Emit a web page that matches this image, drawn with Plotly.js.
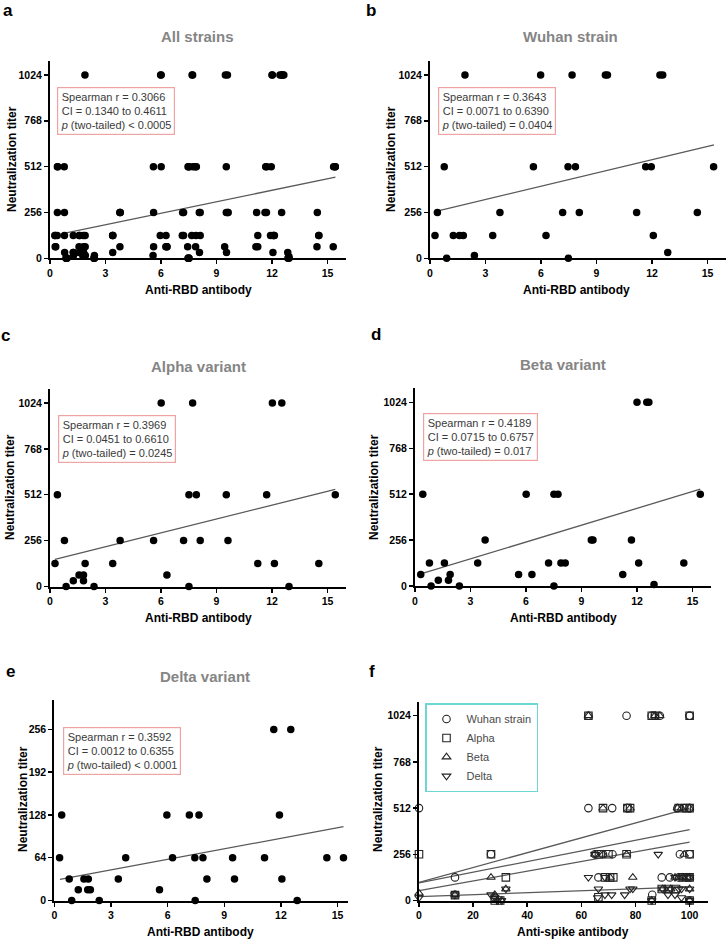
<!DOCTYPE html>
<html>
<head>
<meta charset="utf-8">
<script src="https://cdn.plot.ly/plotly-3.0.1.min.js"></script>
<style>html,body{margin:0;padding:0;background:#fff;}#chart{width:727px;height:941px;}</style>
</head>
<body>
<div id="chart"></div>
<script>
// ---------- DATA ----------
// Panel b: Wuhan strain, anti-RBD vs neutralization titer
const wuhanX = [1.89, 5.98, 7.68, 9.48, 9.59, 12.43, 12.58,
                0.77, 5.59, 7.46, 7.86, 11.66, 11.96, 15.33,
                0.40, 3.78, 7.17, 8.07, 11.17, 14.45,
                0.27, 1.26, 1.59, 1.80, 3.39, 6.27, 12.07,
                0.90, 2.40, 7.48, 12.85];
const wuhanY = [1024, 1024, 1024, 1024, 1024, 1024, 1024,
                512, 512, 512, 512, 512, 512, 512,
                256, 256, 256, 256, 256, 256,
                128, 128, 128, 128, 128, 128, 128,
                0, 16, 0, 32];
const wuhanFitX = [0.32, 15.35];
const wuhanFitY = [262, 633];

// Panel c: Alpha variant
const alphaX = [6.01, 7.71, 12.02, 12.53,
                0.40, 7.51, 7.91, 9.53, 11.71, 15.42,
                0.78, 3.79, 5.60, 7.22, 8.12, 9.62,
                0.27, 1.90, 3.39, 11.23, 12.13, 14.53,
                1.57, 1.81, 6.32,
                1.26, 1.81,
                0.87, 2.38, 7.51, 12.92];
const alphaY = [1024, 1024, 1024, 1024,
                512, 512, 512, 512, 512, 512,
                256, 256, 256, 256, 256, 256,
                128, 128, 128, 128, 128, 128,
                64, 64, 64,
                32, 32,
                0, 0, 0, 0];
const alphaFitX = [0.27, 15.42];
const alphaFitY = [152, 542];

// Panel d: Beta variant
const betaX = [12.00, 12.53, 12.64,
               0.42, 6.01, 7.51, 7.73, 15.42,
               3.79, 9.53, 9.62, 11.70,
               0.78, 1.59, 3.39, 7.22, 7.89, 8.12, 12.09, 14.53,
               0.31, 1.90, 5.60, 6.32, 11.23,
               1.26, 1.81,
               0.87, 2.40, 7.51, 12.92];
const betaY = [1024, 1024, 1024,
               512, 512, 512, 512, 512,
               256, 256, 256, 256,
               128, 128, 128, 128, 128, 128, 128, 128,
               64, 64, 64, 64, 64,
               32, 32,
               0, 0, 0, 8];
const betaFitX = [0.31, 15.42];
const betaFitY = [67, 540];

// Panel e: Delta variant
const deltaX = [11.62, 12.52,
                0.39, 5.96, 7.15, 7.66, 11.92,
                0.28, 6.26, 7.44, 7.87, 9.44, 11.13, 14.43, 15.31, 3.78,
                0.79, 1.57, 1.80, 3.39, 8.08, 9.54, 12.05,
                1.27, 1.77, 1.91, 5.57,
                0.92, 2.38, 7.46, 12.86];
const deltaY = [256, 256,
                128, 128, 128, 128, 128,
                64, 64, 64, 64, 64, 64, 64, 64, 64,
                32, 32, 32, 32, 32, 32, 32,
                16, 16, 16, 16,
                0, 0, 0, 0];
const deltaFitX = [0.30, 15.31];
const deltaFitY = [31.5, 110.5];

// Panel a: all strains (pooled b-e)
const allX = wuhanX.concat(alphaX, betaX, deltaX);
const allY = wuhanY.concat(alphaY, betaY, deltaY);
const allFitX = [0.81, 15.43];
const allFitY = [141, 453];

// Panel f: anti-spike antibody vs neutralization titer
const spikeWuhanX = [62.6, 76.7, 86.0, 87.2, 89.0, 100, 100,
                     0, 62.6, 71.4, 77.0, 95.5, 98.0, 100,
                     26.6, 65.0, 68.0, 71.5, 96.4, 100,
                     13.3, 66.3, 89.7, 92.7, 96.0, 99.0, 100,
                     13.3, 28.0, 86.2, 100];
const spikeWuhanY = [1024, 1024, 1024, 1024, 1024, 1024, 1024,
                     512, 512, 512, 512, 512, 512, 512,
                     256, 256, 256, 256, 256, 256,
                     128, 128, 128, 128, 128, 128, 128,
                     32, 16, 32, 0];
const spikeAlphaX = [62.6, 86.0, 87.2, 100,
                     68.0, 77.0, 78.0, 96.0, 99.0, 100,
                     0, 26.6, 66.5, 70.0, 76.7, 100,
                     32.1, 68.7, 70.6, 71.8, 97.5, 100,
                     89.7, 92.0, 95.0,
                     13.3, 66.3,
                     28.0, 30.0, 86.0, 100];
const spikeAlphaY = [1024, 1024, 1024, 1024,
                     512, 512, 512, 512, 512, 512,
                     256, 256, 256, 256, 256, 256,
                     128, 128, 128, 128, 128, 128,
                     64, 64, 64,
                     30, 18,
                     0, 0, 0, 0];
const spikeBetaX = [62.6, 87.2, 89.0,
                    68.0, 78.0, 95.5, 97.0, 100,
                    65.0, 68.0, 76.7, 98.0,
                    26.6, 70.6, 79.0, 94.6, 96.0, 97.5, 99.0, 100,
                    32.1, 90.0, 93.0, 100, 0,
                    13.3, 28.0,
                    29.0, 30.5, 86.0, 100];
const spikeBetaY = [1024, 1024, 1024,
                    512, 512, 512, 512, 512,
                    256, 256, 256, 256,
                    128, 128, 128, 128, 128, 128, 128, 128,
                    64, 64, 64, 64, 40,
                    32, 32,
                    0, 0, 0, 0];
const spikeDeltaX = [88.4, 65.0,
                     62.6, 68.7, 94.6, 97.5, 100,
                     32.1, 66.3, 78.0, 79.0, 90.0, 93.0, 96.0, 100, 97.0,
                     26.6, 68.7, 71.2, 76.0, 92.0, 94.6, 13.3,
                     0, 28.0, 66.0, 97.0,
                     29.0, 30.5, 86.0, 100];
const spikeDeltaY = [256, 256,
                     128, 128, 128, 128, 128,
                     64, 64, 64, 64, 64, 64, 64, 64, 64,
                     32, 32, 32, 32, 32, 32, 32,
                     16, 16, 16, 16,
                     0, 0, 0, 0];
const spikeFitX = [0, 100];
const spikeFitAlphaY = [100, 512];
const spikeFitWuhanY = [98, 393];
const spikeFitBetaY = [55, 323];
const spikeFitDeltaY = [22, 75];

const rbdTicks = [0, 3, 6, 9, 12, 15];
const titerTicks = [0, 256, 512, 768, 1024];
const deltaTiterTicks = [0, 64, 128, 192, 256];
const spikeTicks = [0, 20, 40, 60, 80, 100];

const panelTitles = ["All strains", "Wuhan strain", "Alpha variant", "Beta variant", "Delta variant"];
const panelLetters = ["a", "b", "c", "d", "e", "f"];
const statTexts = [
  "Spearman r = 0.3066<br>CI = 0.1340 to 0.4611<br><i>p</i> (two-tailed) < 0.0005",
  "Spearman r = 0.3643<br>CI = 0.0071 to 0.6390<br><i>p</i> (two-tailed) = 0.0404",
  "Spearman r = 0.3969<br>CI = 0.0451 to 0.6610<br><i>p</i> (two-tailed) = 0.0245",
  "Spearman r = 0.4189<br>CI = 0.0715 to 0.6757<br><i>p</i> (two-tailed) = 0.017",
  "Spearman r = 0.3592<br>CI = 0.0012 to 0.6355<br><i>p</i> (two-tailed) < 0.0001"
];
const xTitles = ["Anti-RBD antibody", "Anti-RBD antibody", "Anti-RBD antibody", "Anti-RBD antibody", "Anti-RBD antibody", "Anti-spike antibody"];
const yTitle = "Neutralization titer";
const legendNames = ["Wuhan strain", "Alpha", "Beta", "Delta"];

// ---------- LAYOUT HELPERS ----------
const W = 727, H = 941;
const px = x => x / W;
const py = y => 1 - y / H;
const FONT = "Liberation Sans, Arial, sans-serif";

function xAxis(d0, d1, range, ticks, anchor) {
  return {
    domain: [px(d0), px(d1)], range: range, anchor: anchor,
    tickvals: ticks, ticktext: ticks.map(String),
    showline: true, linecolor: "#000", linewidth: 2,
    ticks: "outside", ticklen: 4, tickwidth: 1.5, tickcolor: "#000",
    tickfont: {family: FONT, size: 10.5, color: "#000", weight: "bold"},
    showgrid: false, zeroline: false, fixedrange: true
  };
}
function yAxis(top, bottom, range, ticks, anchor) {
  return {
    domain: [py(bottom), py(top)], range: range, anchor: anchor,
    tickvals: ticks, ticktext: ticks.map(String),
    showline: true, linecolor: "#000", linewidth: 2,
    ticks: "outside", ticklen: 4, tickwidth: 1.5, tickcolor: "#000",
    tickfont: {family: FONT, size: 10.5, color: "#000", weight: "bold"},
    showgrid: false, zeroline: false, fixedrange: true
  };
}

const dotMarker = {color: "#000", size: 7.5, symbol: "circle"};
const fitLine = {color: "#595959", width: 1.3};

function dots(x, y, xa, ya) {
  return {type: "scatter", mode: "markers", x: x, y: y, xaxis: xa, yaxis: ya,
          marker: dotMarker, cliponaxis: false, showlegend: false, hoverinfo: "skip"};
}
function fit(x, y, xa, ya) {
  return {type: "scatter", mode: "lines", x: x, y: y, xaxis: xa, yaxis: ya,
          line: fitLine, showlegend: false, hoverinfo: "skip"};
}
function openPts(x, y, symbol, name) {
  return {type: "scatter", mode: "markers", x: x, y: y, xaxis: "x6", yaxis: "y6", name: name,
          marker: {symbol: symbol, size: 7.5, color: "#222", line: {color: "#222", width: 1.1}},
          cliponaxis: false, hoverinfo: "skip"};
}

const traces = [
  fit(allFitX, allFitY, "x", "y"), dots(allX, allY, "x", "y"),
  fit(wuhanFitX, wuhanFitY, "x2", "y2"), dots(wuhanX, wuhanY, "x2", "y2"),
  fit(alphaFitX, alphaFitY, "x3", "y3"), dots(alphaX, alphaY, "x3", "y3"),
  fit(betaFitX, betaFitY, "x4", "y4"), dots(betaX, betaY, "x4", "y4"),
  fit(deltaFitX, deltaFitY, "x5", "y5"), dots(deltaX, deltaY, "x5", "y5"),
  fit(spikeFitX, spikeFitAlphaY, "x6", "y6"), fit(spikeFitX, spikeFitWuhanY, "x6", "y6"),
  fit(spikeFitX, spikeFitBetaY, "x6", "y6"), fit(spikeFitX, spikeFitDeltaY, "x6", "y6"),
  openPts(spikeWuhanX, spikeWuhanY, "circle-open", legendNames[0]),
  openPts(spikeAlphaX, spikeAlphaY, "square-open", legendNames[1]),
  openPts(spikeBetaX, spikeBetaY, "triangle-up-open", legendNames[2]),
  openPts(spikeDeltaX, spikeDeltaY, "triangle-down-open", legendNames[3])
];

const annotations = [];
function txt(text, x, y, size, color, bold, opts) {
  annotations.push(Object.assign({
    text: text, xref: "paper", yref: "paper", x: px(x), y: py(y),
    xanchor: "center", yanchor: "middle", showarrow: false,
    font: {family: FONT, size: size, color: color, weight: bold ? "bold" : "normal"}
  }, opts || {}));
}
// panel letters
const letterPos = [[8, 11], [371, 11], [6, 335], [376, 334], [10, 671], [372, 671]];
panelLetters.forEach((l, i) => txt(l, letterPos[i][0], letterPos[i][1], 17, "#000", true));
// panel titles
const titlePos = [[197, 37], [570, 37], [198, 366], [563, 365], [205, 676]];
panelTitles.forEach((t, i) => txt(t, titlePos[i][0], titlePos[i][1], 15, "#858585", true));
// x titles
const xTitlePos = [[198, 290], [576, 290], [198, 618], [563, 618], [200, 932], [573, 932]];
xTitles.forEach((t, i) => txt(t, xTitlePos[i][0], xTitlePos[i][1], 12, "#000", true));
// y titles
const yTitlePos = [[12, 159], [391, 159], [10, 487], [374, 487], [23, 799], [378, 799]];
yTitlePos.forEach(p => txt(yTitle, p[0], p[1], 12, "#000", true, {textangle: -90}));
// stat boxes
const statPos = [[57, 87], [438, 87], [58, 415], [423, 413], [63, 727]];
statTexts.forEach((t, i) => txt(t, statPos[i][0], statPos[i][1], 11, "#3a3a3a", false, {
  xanchor: "left", yanchor: "top", align: "left", bordercolor: "#f0a3a3", borderwidth: 1.2, borderpad: 2.5
}));

const layout = {
  width: W, height: H, margin: {l: 0, r: 0, t: 0, b: 0},
  paper_bgcolor: "#fff", plot_bgcolor: "rgba(0,0,0,0)",
  font: {family: FONT},
  showlegend: true,
  legend: {x: px(425), y: py(703), xanchor: "left", yanchor: "top",
           bordercolor: "#6fd6d6", borderwidth: 1.5, bgcolor: "#fff",
           font: {family: FONT, size: 11, color: "#4a4a4a"},
           tracegroupgap: 0, itemwidth: 30},
  xaxis: xAxis(50, 346, [0, 16], rbdTicks, "y"),
  yaxis: yAxis(61, 258.3, [0, 1102], titerTicks, "x"),
  xaxis2: xAxis(430, 726, [0, 16], rbdTicks, "y2"),
  yaxis2: yAxis(61, 258.3, [0, 1102], titerTicks, "x2"),
  xaxis3: xAxis(50, 346, [0, 16], rbdTicks, "y3"),
  yaxis3: yAxis(389, 586.5, [0, 1102], titerTicks, "x3"),
  xaxis4: xAxis(415, 711, [0, 16], rbdTicks, "y4"),
  yaxis4: yAxis(388, 586, [0, 1104], titerTicks, "x4"),
  xaxis5: xAxis(54.3, 348, [0, 15.55], rbdTicks, "y5"),
  yaxis5: yAxis(700, 900.5, [0, 300], deltaTiterTicks, "x5"),
  xaxis6: xAxis(419, 708, [0, 106.8], spikeTicks, "y6"),
  yaxis6: yAxis(702, 900.5, [0, 1100], titerTicks, "x6"),
  annotations: annotations
};

Plotly.newPlot("chart", traces, layout, {staticPlot: true, displayModeBar: false});
</script>
</body>
</html>
